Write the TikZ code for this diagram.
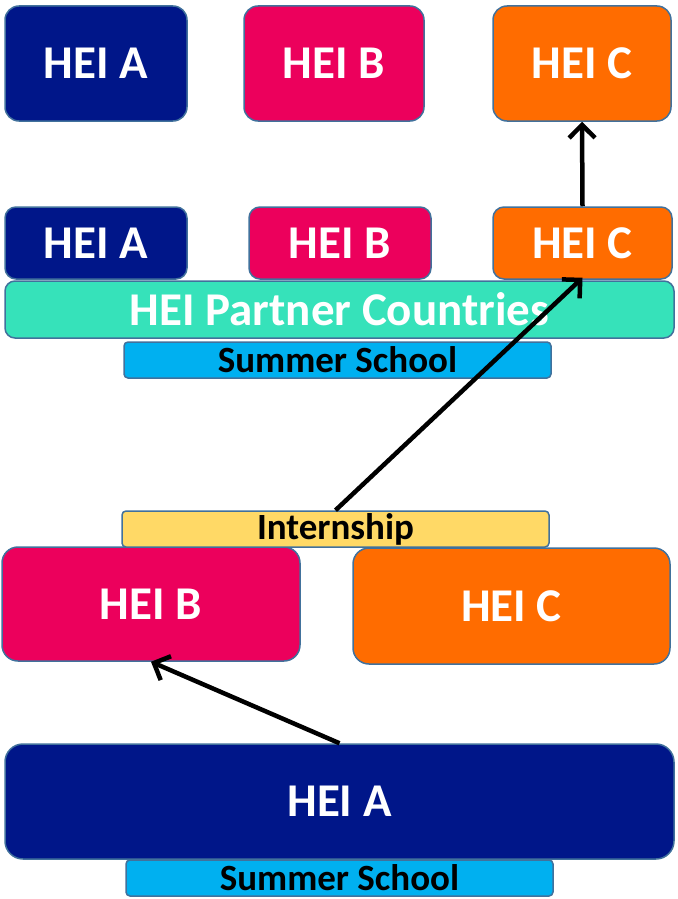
\documentclass[tikz,border=0pt]{standalone}
\usepackage{fontspec}
\setmainfont{Carlito}
\usetikzlibrary{arrows.meta}
\definecolor{navy}{RGB}{0,22,137}
\definecolor{pinkc}{RGB}{236,0,92}
\definecolor{orangec}{RGB}{255,108,0}
\definecolor{tealc}{RGB}{54,226,186}
\definecolor{cyanc}{RGB}{0,176,240}
\definecolor{yellowc}{RGB}{255,217,102}
\definecolor{bordc}{RGB}{65,113,156}
\tikzset{
  box/.style={draw=bordc, line width=1.5pt, inner sep=0pt, rounded corners=14pt},
  bigtxt/.style={text=white, font=\fontsize{47}{50}\selectfont\bfseries},
  smalltxt/.style={text=black, font=\fontsize{37}{40}\selectfont\bfseries, rounded corners=4pt},
  arr/.style={line width=4.5pt, -{Straight Barb[length=13pt,width=26pt,line width=4.5pt]}},
}
\begin{document}
\begin{tikzpicture}[x=1pt,y=-1pt]
\useasboundingbox (0,0) rectangle (677,899);
% top row
\node[box, bigtxt, fill=navy, minimum width=182pt, minimum height=115pt] (a1) at (96,63.5) {HEI A};
\node[box, bigtxt, fill=pinkc, minimum width=180pt, minimum height=115pt] (b1) at (334,63.5) {HEI B};
\node[box, bigtxt, fill=orangec, minimum width=178pt, minimum height=115pt] (c1) at (582,63.5) {HEI C};
% second row
\node[box, bigtxt, fill=navy, minimum width=182pt, minimum height=72pt, rounded corners=11pt] (a2) at (96,243) {HEI A};
\node[box, bigtxt, fill=pinkc, minimum width=182pt, minimum height=72pt, rounded corners=11pt] (b2) at (340,243) {HEI B};
\node[box, bigtxt, fill=orangec, minimum width=179pt, minimum height=72pt, rounded corners=11pt] (c2) at (582.5,243) {HEI C};
\node[box, bigtxt, fill=tealc, minimum width=669pt, minimum height=57pt, rounded corners=10pt] (pc) at (339.5,309.5) {HEI Partner Countries};
\node[box, smalltxt, fill=cyanc, minimum width=427pt, minimum height=36pt] (ss1) at (337.5,360) {Summer School};
% third row
\node[box, bigtxt, fill=pinkc, minimum width=298pt, minimum height=114pt, rounded corners=16pt] (b3) at (151,604) {HEI B};
\node[box, bigtxt, fill=orangec, minimum width=317pt, minimum height=116pt, rounded corners=16pt] (c3) at (511.5,606) {HEI C};
\node[box, smalltxt, fill=yellowc, minimum width=427pt, minimum height=36pt] (in) at (335.5,529) {Internship};
% bottom
\node[box, bigtxt, fill=navy, minimum width=669pt, minimum height=115pt, rounded corners=18pt] (a4) at (339.5,801.5) {HEI A};
\node[box, smalltxt, fill=cyanc, minimum width=427pt, minimum height=36pt] (ss2) at (339.5,878) {Summer School};
% arrows
\draw[arr] (a4.north) -- (b3.south);
\draw[arr] (in.north) -- ([yshift=2pt]c2.south);
\draw[arr] (c2.north) -- (c1.south);
\end{tikzpicture}
\end{document}
